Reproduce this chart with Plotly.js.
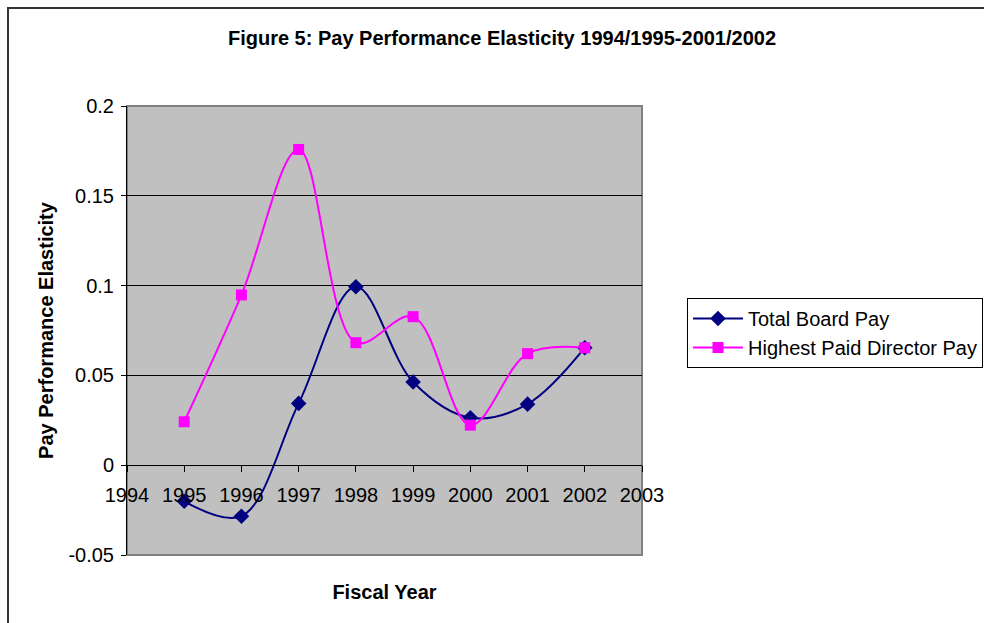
<!DOCTYPE html>
<html>
<head>
<meta charset="utf-8">
<script src="https://cdn.plot.ly/plotly-3.0.1.min.js"></script>
<style>html,body{margin:0;padding:0;background:#fff;}#chart{width:984px;height:623px;}</style>
</head>
<body>
<div id="chart"></div>
<script>
const years = [1995, 1996, 1997, 1998, 1999, 2000, 2001, 2002];
const totalBoardPay = [-0.0201, -0.0284, 0.0344, 0.0994, 0.0463, 0.0264, 0.0340, 0.0654];
const highestPaidDirectorPay = [0.0242, 0.0948, 0.1758, 0.0682, 0.0827, 0.0223, 0.0621, 0.0654];
const seriesNames = ["Total Board Pay", "Highest Paid Director Pay"];
const yTickVals = [-0.05, 0, 0.05, 0.1, 0.15, 0.2];
const yTickText = ["-0.05", "0", "0.05", "0.1", "0.15", "0.2"];
const titleText = "Figure 5: Pay Performance Elasticity 1994/1995-2001/2002";
const xTitle = "Fiscal Year";
const yTitle = "Pay Performance Elasticity";

const FONT = "Liberation Sans, Arial, sans-serif";

const traces = [
  {
    x: years, y: totalBoardPay, name: seriesNames[0],
    type: "scatter", mode: "lines+markers",
    line: {color: "#000080", width: 2, shape: "spline", smoothing: 1},
    marker: {symbol: "diamond", size: 12, color: "#000080"}
  },
  {
    x: years, y: highestPaidDirectorPay, name: seriesNames[1],
    type: "scatter", mode: "lines+markers",
    line: {color: "#FF00FF", width: 2, shape: "spline", smoothing: 1},
    marker: {symbol: "square", size: 11, color: "#FF00FF"}
  }
];

const layout = {
  width: 984, height: 623,
  margin: {l: 127, r: 342, t: 106, b: 68, autoexpand: false},
  paper_bgcolor: "#ffffff",
  plot_bgcolor: "#C0C0C0",
  showlegend: true,
  font: {family: FONT, color: "#000", size: 20},
  title: {
    text: "<b>" + titleText + "</b>",
    font: {family: FONT, size: 20, color: "#000"},
    x: 502 / 984, xanchor: "center", xref: "container",
    y: 1 - 38 / 623, yanchor: "middle", yref: "container"
  },
  xaxis: {
    range: [1994, 2003], dtick: 1, tick0: 1994,
    anchor: "free", position: 0.2,
    showgrid: false, zeroline: false,
    showline: true, linecolor: "#000", linewidth: 1,
    ticks: "outside", ticklen: 6, tickcolor: "#000",
    ticklabelstandoff: 6,
    tickfont: {family: FONT, size: 20},
    title: {text: "<b>" + xTitle + "</b>", font: {family: FONT, size: 20}, standoff: 79},
    automargin: false, fixedrange: true
  },
  yaxis: {
    range: [-0.05, 0.2],
    tickmode: "array", tickvals: yTickVals, ticktext: yTickText,
    showgrid: true, gridcolor: "#000", gridwidth: 1,
    zeroline: false,
    showline: true, linecolor: "#000", linewidth: 1,
    ticks: "outside", ticklen: 5, tickcolor: "#000",
    ticklabelstandoff: 3,
    tickfont: {family: FONT, size: 20},
    title: {text: "<b>" + yTitle + "</b>", font: {family: FONT, size: 20}, standoff: 9},
    automargin: false, fixedrange: true
  },
  legend: {
    x: (687 - 127) / 515, xanchor: "left",
    y: (555 - 298) / 449, yanchor: "top",
    bgcolor: "#ffffff", bordercolor: "#000", borderwidth: 1,
    font: {family: FONT, size: 20, color: "#000"},
    itemwidth: 50,
    tracegroupgap: 0
  },
  shapes: [
    {type: "rect", xref: "x domain", yref: "y domain", x0: 0, x1: 1, y0: 0, y1: 1,
     line: {color: "#808080", width: 2}, layer: "below"},
    {type: "rect", xref: "paper", yref: "paper",
     x0: (8 - 127) / 515, x1: (995 - 127) / 515,
     y0: (555 - 640) / 449, y1: (555 - 8) / 449,
     line: {color: "#333", width: 2}, layer: "below"}
  ]
};

Plotly.newPlot("chart", traces, layout, {displayModeBar: false, staticPlot: true});
</script>
</body>
</html>
